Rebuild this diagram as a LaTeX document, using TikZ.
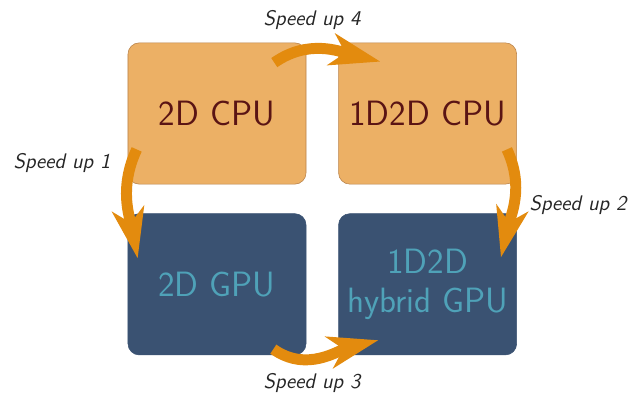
\documentclass[tikz,border=0pt]{standalone}
\usepackage{tikz}
\usetikzlibrary{arrows.meta,positioning}
\definecolor{naranja}{HTML}{ECB065}
\definecolor{borde}{HTML}{B9824A}
\definecolor{granate}{HTML}{5A1414}
\definecolor{azulosc}{HTML}{3A5272}
\definecolor{turquesa}{HTML}{4FA2B8}
\definecolor{flechanar}{HTML}{E38B0E}

\begin{document}
\begin{tikzpicture}[x=0.025cm,y=0.025cm,
    cpubox/.style={draw=borde,fill=naranja,rounded corners=8pt,minimum width=4.45cm,minimum height=3.53cm,align=center,text=granate,font=\sffamily\fontsize{25}{28}\selectfont},
    gpubox/.style={cpubox,draw=azulosc,fill=azulosc,text=turquesa},
    boost/.style={-{Stealth[length=1.25cm,width=0.8cm,inset=0.35cm]},line width=7.8pt,flechanar},
    etiqueta/.style={font=\sffamily\itshape\fontsize{15}{17}\selectfont,text=black!85}]
    \useasboundingbox (0,0) rectangle (634,396);
    \node[cpubox] (cpu2d) at (217,282.5) {2D CPU};
    \node[cpubox,right=0.8cm of cpu2d] (cpu1d2d) {1D2D CPU};
    \node[gpubox,below=0.725cm of cpu2d] (gpu2d) {2D GPU};
    \node[gpubox,right=0.8cm of gpu2d] (gpu1d2d) {1D2D\\hybrid GPU};
    \draw[boost] ([shift={(-32,-20)}]cpu2d.north east) to[out=35,in=166] ([shift={(42,-19)}]cpu1d2d.north west);
    \draw[boost] ([shift={(9,35)}]cpu2d.south west) to[out=245,in=101] ([shift={(10,-45)}]gpu2d.north west);
    \draw[boost] ([shift={(-10,35)}]cpu1d2d.south east) to[out=295,in=77] ([shift={(-16,-44)}]gpu1d2d.north east);
    \draw[boost] ([shift={(-33,6)}]gpu2d.south east) to[out=-35,in=194] ([shift={(40,15)}]gpu1d2d.south west);
    \node[etiqueta] (lbl4) at (312,376) {Speed up 4};
    \node[etiqueta] (lbl1) at (62,233) {Speed up 1};
    \node[etiqueta] (lbl2) at (578,191) {Speed up 2};
    \node[etiqueta] (lbl3) at (312,13) {Speed up 3};
\end{tikzpicture}
\end{document}
